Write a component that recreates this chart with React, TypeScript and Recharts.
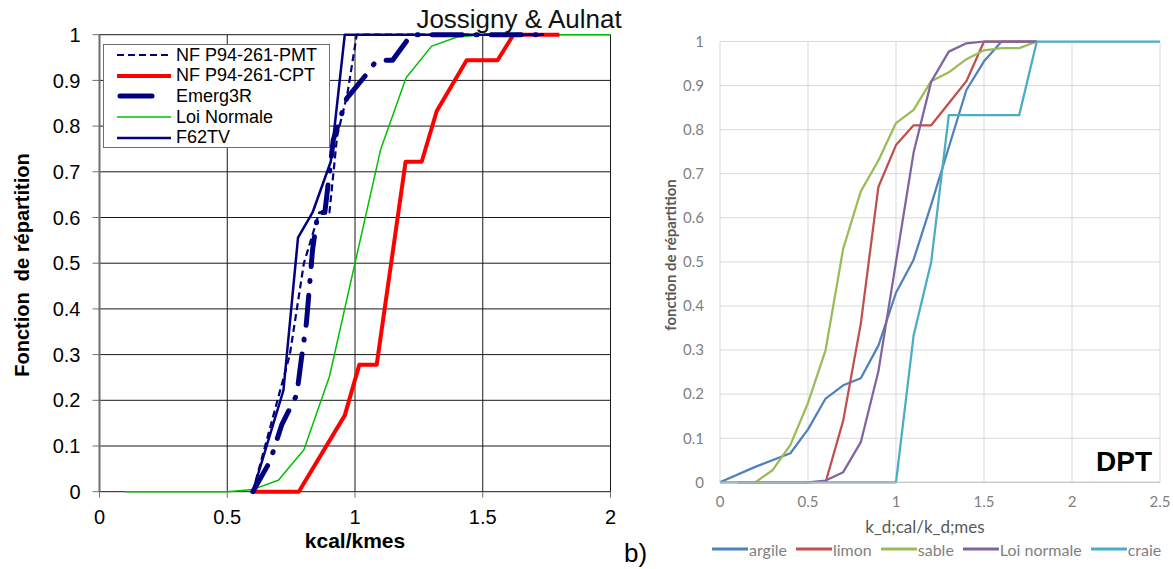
import React from 'react';
import { LineChart, Line, XAxis, YAxis, CartesianGrid, Legend } from 'recharts';

// ---------- left chart : Jossigny & Aulnat ----------
const pmtX = [0.6, 0.745, 0.8, 0.86, 0.9, 0.93, 0.97, 1.007, 1.74];
const pmtY = [0, 0.3, 0.5, 0.611, 0.611, 0.778, 0.87, 1, 1];

const cptX = [0.6, 0.78, 0.96, 1.017, 1.085, 1.198, 1.261, 1.32, 1.437, 1.558, 1.62, 1.8];
const cptY = [0, 0, 0.167, 0.278, 0.278, 0.722, 0.722, 0.833, 0.944, 0.944, 1, 1];

const emergX = [0.6, 0.667, 0.713, 0.772, 0.79, 0.81, 0.834, 0.855, 0.882, 0.915, 0.967, 1.04, 1.085, 1.147, 1.22, 1.74];
const emergY = [0, 0.066, 0.146, 0.212, 0.29, 0.37, 0.53, 0.611, 0.611, 0.77, 0.86, 0.91, 0.944, 0.944, 1, 1];

const normX = [0.1, 0.2, 0.3, 0.4, 0.5, 0.6, 0.7, 0.8, 0.9, 1.0, 1.1, 1.2, 1.3, 1.4, 1.5, 1.6, 1.7, 1.8, 1.9, 2.0];
const normY = [0, 0, 0, 0, 0, 0.005, 0.025, 0.092, 0.252, 0.5, 0.748, 0.906, 0.975, 0.995, 1, 1, 1, 1, 1, 1];

const f62X = [0.6, 0.72, 0.777, 0.834, 0.905, 0.96, 1.74];
const f62Y = [0, 0.222, 0.556, 0.611, 0.722, 1, 1];

const leftXTicks = [0, 0.5, 1, 1.5, 2];
const leftYTicks = [0, 0.1, 0.2, 0.3, 0.4, 0.5, 0.6, 0.7, 0.8, 0.9, 1];

// ---------- right chart : DPT ----------
const argileX = [0, 0.2, 0.4, 0.5, 0.6, 0.7, 0.8, 0.9, 1.0, 1.1, 1.2, 1.3, 1.4, 1.5, 1.6, 1.8];
const argileY = [0, 0.035, 0.066, 0.12, 0.19, 0.22, 0.236, 0.31, 0.43, 0.505, 0.63, 0.76, 0.89, 0.955, 1, 1];

const limonX = [0.6, 0.7, 0.8, 0.9, 1.0, 1.1, 1.2, 1.3, 1.4, 1.5, 1.8];
const limonY = [0, 0.14, 0.36, 0.67, 0.765, 0.81, 0.81, 0.86, 0.91, 1, 1];

const sableX = [0.2, 0.3, 0.4, 0.5, 0.6, 0.7, 0.8, 0.9, 1.0, 1.1, 1.2, 1.3, 1.4, 1.5, 1.6, 1.7, 1.8];
const sableY = [0, 0.028, 0.085, 0.18, 0.3, 0.53, 0.66, 0.73, 0.815, 0.845, 0.91, 0.93, 0.96, 0.98, 0.985, 0.985, 1];

const loiX = [0.1, 0.2, 0.3, 0.4, 0.5, 0.6, 0.7, 0.8, 0.9, 1.0, 1.1, 1.2, 1.3, 1.4, 1.5, 1.8];
const loiY = [0, 0, 0, 0, 0, 0.004, 0.023, 0.091, 0.252, 0.5, 0.748, 0.909, 0.977, 0.996, 1, 1];

const craieX = [0, 1.0, 1.1, 1.2, 1.3, 1.7, 1.8, 2.5];
const craieY = [0, 0, 0.333, 0.5, 0.833, 0.833, 1, 1];

const rightXTicks = [0, 0.5, 1, 1.5, 2, 2.5];
const rightYTicks = [0, 0.1, 0.2, 0.3, 0.4, 0.5, 0.6, 0.7, 0.8, 0.9, 1];

const zip = (xs: number[], ys: number[]) => xs.map((x, i) => ({ x, y: ys[i] }));

const NAVY = '#000080';

type Serie = { name: string; data: { x: number; y: number }[]; color: string; width: number; dash?: string; cap?: 'round' | 'butt' };

const pmt: Serie = { name: 'NF P94-261-PMT', data: zip(pmtX, pmtY), color: NAVY, width: 2.2, dash: '7 4' };
const cpt: Serie = { name: 'NF P94-261-CPT', data: zip(cptX, cptY), color: '#ff0000', width: 4 };
const emerg: Serie = { name: 'Emerg3R', data: zip(emergX, emergY), color: NAVY, width: 5, dash: '30 14 1 14', cap: 'round' };
const norm: Serie = { name: 'Loi Normale', data: zip(normX, normY), color: '#00c000', width: 1.5 };
const f62: Serie = { name: 'F62TV', data: zip(f62X, f62Y), color: NAVY, width: 2.5 };

const leftLegendOrder = [pmt, cpt, emerg, norm, f62];
const leftDrawOrder = [norm, cpt, emerg, pmt, f62];

const rightSeries: Serie[] = [
  { name: 'argile', data: zip(argileX, argileY), color: '#4f81bd', width: 2.25 },
  { name: 'limon', data: zip(limonX, limonY), color: '#c0504d', width: 2.25 },
  { name: 'sable', data: zip(sableX, sableY), color: '#9bbb59', width: 2.25 },
  { name: 'Loi normale', data: zip(loiX, loiY), color: '#8064a2', width: 2.25 },
  { name: 'craie', data: zip(craieX, craieY), color: '#4bacc6', width: 2.25 },
];

const ARIAL = '"Liberation Sans", Arial, sans-serif';
const CALIBRI = 'Lato, "Open Sans", sans-serif';

function LeftLegend() {
  return (
    <div style={{ width: 227, height: 104, boxSizing: 'border-box', border: '1px solid #6f6f6f', background: '#fff' }}>
      {leftLegendOrder.map((s) => (
        <div key={s.name} style={{ display: 'flex', alignItems: 'center', height: 20.6 }}>
          <svg width={72} height={20} style={{ flex: 'none' }}>
            {s === emerg ? (
              <line x1={16} x2={48} y1={10} y2={10} stroke={s.color} strokeWidth={5} strokeLinecap="round" />
            ) : (
              <line x1={13} x2={67} y1={10} y2={10} stroke={s.color} strokeWidth={s.width} strokeDasharray={s.dash} />
            )}
          </svg>
          <span style={{ fontFamily: ARIAL, fontSize: 18, color: '#000', whiteSpace: 'pre' }}>{s.name}</span>
        </div>
      ))}
    </div>
  );
}

function RightLegend() {
  return (
    <div style={{ display: 'flex', alignItems: 'center', height: 20, paddingLeft: 62, whiteSpace: 'nowrap' }}>
      {rightSeries.map((s) => (
        <div key={s.name} style={{ display: 'flex', alignItems: 'center', marginRight: 9, flex: 'none' }}>
          <svg width={36} height={10} style={{ flex: 'none' }}>
            <line x1={0} x2={36} y1={5} y2={5} stroke={s.color} strokeWidth={3} />
          </svg>
          <span style={{ fontFamily: CALIBRI, fontSize: 16, color: '#7f7f7f', marginLeft: 1, whiteSpace: 'nowrap' }}>{s.name}</span>
        </div>
      ))}
    </div>
  );
}

export default function App() {
  return (
    <div style={{ position: 'absolute', left: 0, top: 0, width: 1173, height: 569, background: '#fff', overflow: 'hidden' }}>
      <div style={{ position: 'absolute', left: 0, top: 0 }}>
        <LineChart width={621} height={569} margin={{ top: 34.7, right: 10.5, bottom: 0, left: 40 }}>
          <CartesianGrid stroke="#1a1a1a" strokeWidth={1} />
          <XAxis
            dataKey="x"
            type="number"
            domain={[0, 2]}
            ticks={leftXTicks}
            height={77.3}
            tickSize={6}
            tickMargin={12}
            axisLine={false}
            tickLine={{ stroke: '#6f6f6f' }}
            tick={{ fontFamily: ARIAL, fontSize: 20, fill: '#000' }}
          />
          <YAxis
            dataKey="y"
            type="number"
            domain={[0, 1]}
            ticks={leftYTicks}
            width={59.5}
            tickSize={7}
            tickMargin={12}
            axisLine={{ stroke: '#6f6f6f', strokeWidth: 2 }}
            tickLine={{ stroke: '#6f6f6f' }}
            tick={{ fontFamily: ARIAL, fontSize: 20, fill: '#000' }}
          />
          <Legend
            layout="horizontal"
            verticalAlign="middle"
            align="center"
            wrapperStyle={{ left: 103, top: 44, width: 227, height: 104 }}
            content={() => <LeftLegend />}
          />
          {leftDrawOrder.map((s) => (
            <Line
              key={s.name}
              data={s.data}
              dataKey="y"
              name={s.name}
              type="linear"
              stroke={s.color}
              strokeWidth={s.width}
              strokeDasharray={s.dash}
              strokeLinecap={s.cap ?? 'butt'}
              strokeLinejoin="round"
              dot={false}
              activeDot={false}
              isAnimationActive={false}
            />
          ))}
        </LineChart>
      </div>

      <div style={{ position: 'absolute', left: 650, top: 0 }}>
        <LineChart width={523} height={569} margin={{ top: 41.5, right: 13, bottom: 0, left: 0 }}>
          <CartesianGrid stroke="#d9d9d9" strokeWidth={1} />
          <XAxis
            dataKey="x"
            type="number"
            domain={[0, 2.5]}
            ticks={rightXTicks}
            height={86.7}
            tickSize={0}
            tickMargin={14}
            axisLine={{ stroke: '#bfbfbf' }}
            tickLine={false}
            tick={{ fontFamily: CALIBRI, fontSize: 15, fill: '#7f7f7f' }}
          />
          <YAxis
            dataKey="y"
            type="number"
            domain={[0, 1]}
            ticks={rightYTicks}
            width={70}
            tickSize={0}
            tickMargin={16}
            axisLine={false}
            tickLine={false}
            tick={{ fontFamily: CALIBRI, fontSize: 15, fill: '#7f7f7f' }}
          />
          <Legend
            layout="horizontal"
            verticalAlign="middle"
            align="center"
            wrapperStyle={{ left: 0, top: 539, width: 523, height: 20 }}
            content={() => <RightLegend />}
          />
          {rightSeries.map((s) => (
            <Line
              key={s.name}
              data={s.data}
              dataKey="y"
              name={s.name}
              type="linear"
              stroke={s.color}
              strokeWidth={s.width}
              strokeLinejoin="round"
              dot={false}
              activeDot={false}
              isAnimationActive={false}
            />
          ))}
        </LineChart>
      </div>

      <svg width={1173} height={569} style={{ position: 'absolute', left: 0, top: 0, pointerEvents: 'none' }}>
        <text x={519} y={28} textAnchor="middle" fontFamily={ARIAL} fontSize={26} fill="#111">Jossigny &amp; Aulnat</text>
        <text x={624} y={562} fontFamily={ARIAL} fontSize={26} fill="#000">b)</text>
        <text
          x={0}
          y={0}
          transform="translate(29 265) rotate(-90)"
          textAnchor="middle"
          fontFamily={ARIAL}
          fontWeight="bold"
          fontSize={20}
          fill="#000"
          style={{ whiteSpace: 'pre' }}
        >
          {'Fonction  de répartition'}
        </text>
        <text x={355} y={548} textAnchor="middle" fontFamily={ARIAL} fontWeight="bold" fontSize={21} fill="#000">kcal/kmes</text>
        <text
          x={0}
          y={0}
          transform="translate(676 255) rotate(-90)"
          textAnchor="middle"
          fontFamily={CALIBRI}
          fontWeight="bold"
          fontSize={15}
          fill="#595959"
        >
          fonction de répartition
        </text>
        <text x={925} y={533} textAnchor="middle" fontFamily={CALIBRI} fontSize={17} fill="#595959">k_d;cal/k_d;mes</text>
        <text x={1152} y={471} textAnchor="end" fontFamily={ARIAL} fontWeight="bold" fontSize={28} fill="#000">DPT</text>
      </svg>
    </div>
  );
}
